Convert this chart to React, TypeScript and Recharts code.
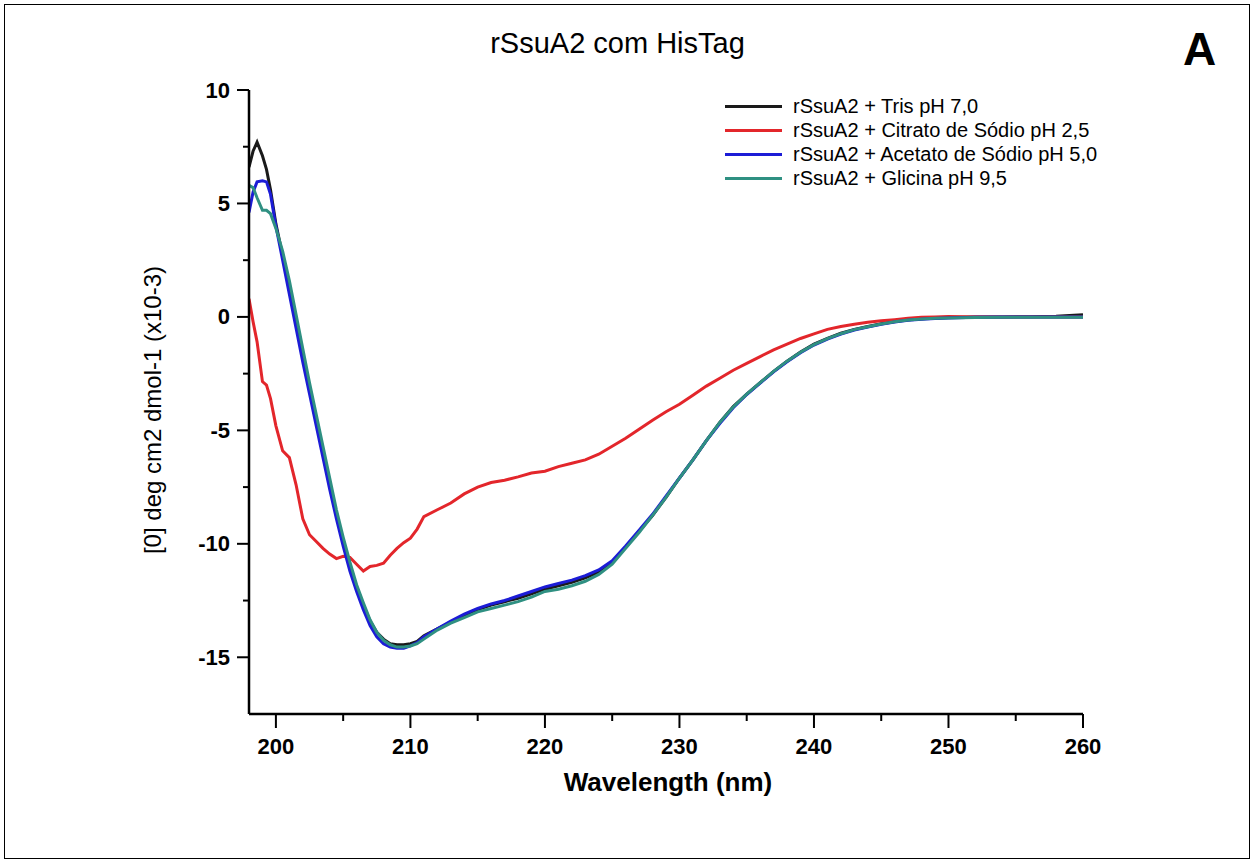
import { LineChart, Line, XAxis, YAxis } from 'recharts';

const wavelength = [
  198, 198.3, 198.6, 199, 199.3, 199.6, 200, 200.5, 201, 201.5, 202, 202.5, 203, 203.5, 204, 204.5,
  205, 205.5, 206, 206.5, 207, 207.5, 208, 208.5, 209, 209.5, 210, 210.5, 211, 212, 213, 214, 215,
  216, 217, 218, 219, 220, 221, 222, 223, 224, 225, 226, 227, 228, 229, 230, 231, 232, 233, 234,
  235, 236, 237, 238, 239, 240, 241, 242, 243, 244, 245, 246, 247, 248, 249, 250, 252, 254, 256,
  258, 260,
];

const tris = [
  6.6, 7.3, 7.7, 7.1, 6.5, 5.6, 4.1, 2.7, 1.3, -0.3, -1.8, -3.2, -4.6, -6.0, -7.4, -8.7,
  -9.9, -11.0, -11.9, -12.7, -13.4, -13.9, -14.2, -14.4, -14.45, -14.45, -14.4, -14.3, -14.05, -13.75, -13.45, -13.15, -12.9,
  -12.7, -12.55, -12.4, -12.2, -12.0, -11.85, -11.7, -11.5, -11.25, -10.8, -10.15, -9.45, -8.75, -7.95, -7.1, -6.3, -5.45, -4.65, -3.95,
  -3.4, -2.9, -2.4, -1.95, -1.55, -1.2, -0.95, -0.72, -0.55, -0.42, -0.3, -0.2, -0.13, -0.08, -0.05, -0.03, 0, 0, 0.01,
  0.03, 0.1,
];

const citrato = [
  0.8, -0.2, -1.1, -2.85, -3.0, -3.6, -4.8, -5.9, -6.2, -7.4, -8.9, -9.6, -9.9, -10.2, -10.45, -10.65,
  -10.55, -10.6, -10.9, -11.2, -11.0, -10.95, -10.85, -10.5, -10.2, -9.95, -9.75, -9.35, -8.8, -8.5, -8.2, -7.8, -7.5,
  -7.3, -7.2, -7.05, -6.88, -6.8, -6.6, -6.45, -6.3, -6.05, -5.7, -5.35, -4.95, -4.55, -4.18, -3.85, -3.45, -3.05, -2.7, -2.35,
  -2.05, -1.75, -1.45, -1.2, -0.95, -0.75, -0.55, -0.42, -0.32, -0.24, -0.17, -0.12, -0.06, -0.02, 0, 0.02, 0, 0, 0,
  0, 0,
];

const acetato = [
  4.6, 5.5, 5.95, 6.0, 5.95, 5.4, 4.0, 2.5, 1.0, -0.5, -2.0, -3.4, -4.8, -6.2, -7.6, -8.9,
  -10.1, -11.2, -12.1, -12.9, -13.6, -14.1, -14.4, -14.55, -14.6, -14.6, -14.5, -14.35, -14.1, -13.75, -13.4, -13.1, -12.85,
  -12.65, -12.5, -12.3, -12.1, -11.9, -11.75, -11.6, -11.4, -11.15, -10.75, -10.1, -9.4, -8.7, -7.9, -7.1, -6.3, -5.45, -4.7, -4.0,
  -3.42, -2.92, -2.42, -1.98, -1.58, -1.24, -0.98, -0.76, -0.58, -0.45, -0.33, -0.22, -0.15, -0.1, -0.07, -0.05, -0.02, 0, 0,
  0, 0,
];

const glicina = [
  5.8, 5.7, 5.25, 4.7, 4.7, 4.55, 3.9, 2.9, 1.6, 0.1, -1.4, -2.9, -4.3, -5.7, -7.1, -8.5,
  -9.7, -10.8, -11.8, -12.6, -13.35, -13.9, -14.25, -14.45, -14.55, -14.55, -14.5, -14.4, -14.2, -13.8, -13.5, -13.25, -13.0,
  -12.85, -12.7, -12.55, -12.35, -12.1, -12.0, -11.85, -11.65, -11.35, -10.9, -10.2, -9.5, -8.75, -7.95, -7.1, -6.3, -5.45, -4.65, -3.97,
  -3.4, -2.9, -2.4, -1.95, -1.56, -1.22, -0.96, -0.74, -0.56, -0.43, -0.31, -0.21, -0.14, -0.09, -0.06, -0.05, -0.03, -0.02, -0.02,
  -0.02, -0.02,
];

const xTicks = [200, 205, 210, 215, 220, 225, 230, 235, 240, 245, 250, 255, 260];
const yTicks = [10, 7.5, 5, 2.5, 0, -2.5, -5, -7.5, -10, -12.5, -15];

const series = [
  { key: 'tris', name: 'rSsuA2 + Tris pH 7,0', color: '#1a1a1a' },
  { key: 'citrato', name: 'rSsuA2 + Citrato de Sódio pH 2,5', color: '#e3262b' },
  { key: 'acetato', name: 'rSsuA2 + Acetato de Sódio pH 5,0', color: '#1c1cd6' },
  { key: 'glicina', name: 'rSsuA2 + Glicina pH 9,5', color: '#2f9082' },
];

const data = wavelength.map((wl, i) => ({
  wl,
  tris: tris[i],
  citrato: citrato[i],
  acetato: acetato[i],
  glicina: glicina[i],
}));

const font = '"Liberation Sans", Arial, sans-serif';

const YTick = (props: any) => {
  const { x, y, payload } = props;
  const major = payload.value % 5 === 0;
  return (
    <g>
      <line x1={x - (major ? 12 : 6)} x2={x} y1={y} y2={y} stroke="#000" strokeWidth={2} />
      {major && (
        <text x={x - 19} y={y} textAnchor="end" dominantBaseline="central" fontFamily={font} fontWeight="bold" fontSize={22} fill="#000">
          {payload.value}
        </text>
      )}
    </g>
  );
};

const XTick = (props: any) => {
  const { x, y, payload } = props;
  const major = payload.value % 10 === 0;
  return (
    <g>
      <line x1={x} x2={x} y1={y} y2={y + (major ? 14 : 7)} stroke="#000" strokeWidth={2} />
      {major && (
        <text x={x} y={y + 32} textAnchor="middle" dominantBaseline="central" fontFamily={font} fontWeight="bold" fontSize={22} fill="#000">
          {payload.value}
        </text>
      )}
    </g>
  );
};

export default function App() {
  return (
    <div style={{ position: 'relative', width: 1255, height: 865, background: '#fff', fontFamily: font }}>
      <style>{'body{margin:0}'}</style>
      <div style={{ position: 'absolute', left: 4, top: 4, width: 1244, height: 853, border: '1.5px solid #000' }} />
      <div style={{ position: 'absolute', left: 0, width: 1235, top: 27, textAlign: 'center', fontSize: 29, color: '#000' }}>
        rSsuA2 com HisTag
      </div>
      <div style={{ position: 'absolute', left: 1183, top: 22, fontSize: 46, fontWeight: 'bold', color: '#000' }}>A</div>
      <LineChart width={1255} height={865} data={data} margin={{ top: 90, right: 172, bottom: 91, left: 189 }}>
        <XAxis
          type="number"
          dataKey="wl"
          domain={[198, 260]}
          ticks={xTicks}
          interval={0}
          height={60}
          tickSize={0}
          tickMargin={0}
          tickLine={false}
          tick={<XTick />}
          axisLine={{ stroke: '#000', strokeWidth: 2.5 }}
          allowDataOverflow
          label={{
            content: () => (
              <text x={668} y={782} textAnchor="middle" dominantBaseline="central" fontFamily={font} fontWeight="bold" fontSize={26} fill="#000">
                Wavelength (nm)
              </text>
            ),
          }}
        />
        <YAxis
          type="number"
          domain={[-17.5, 10]}
          ticks={yTicks}
          interval={0}
          width={60}
          tickSize={0}
          tickMargin={0}
          tickLine={false}
          tick={<YTick />}
          axisLine={{ stroke: '#000', strokeWidth: 2.5 }}
          allowDataOverflow
          label={{
            content: () => (
              <text x={152} y={410} transform="rotate(-90 152 410)" textAnchor="middle" dominantBaseline="central" fontFamily={font} fontSize={24} fill="#000">
                [0] deg cm2 dmol-1 (x10-3)
              </text>
            ),
          }}
        />
        {series.map((s) => (
          <Line
            key={s.key}
            type="linear"
            dataKey={s.key}
            name={s.name}
            stroke={s.color}
            strokeWidth={3}
            dot={false}
            isAnimationActive={false}
          />
        ))}
      </LineChart>
      <div style={{ position: 'absolute', left: 725, top: 94 }}>
        {series.map((s) => (
          <div key={s.key} style={{ display: 'flex', alignItems: 'center', height: 24 }}>
            <div style={{ width: 57, height: 3, background: s.color, marginRight: 11 }} />
            <span style={{ fontSize: 20, color: '#000', whiteSpace: 'nowrap' }}>{s.name}</span>
          </div>
        ))}
      </div>
    </div>
  );
}
